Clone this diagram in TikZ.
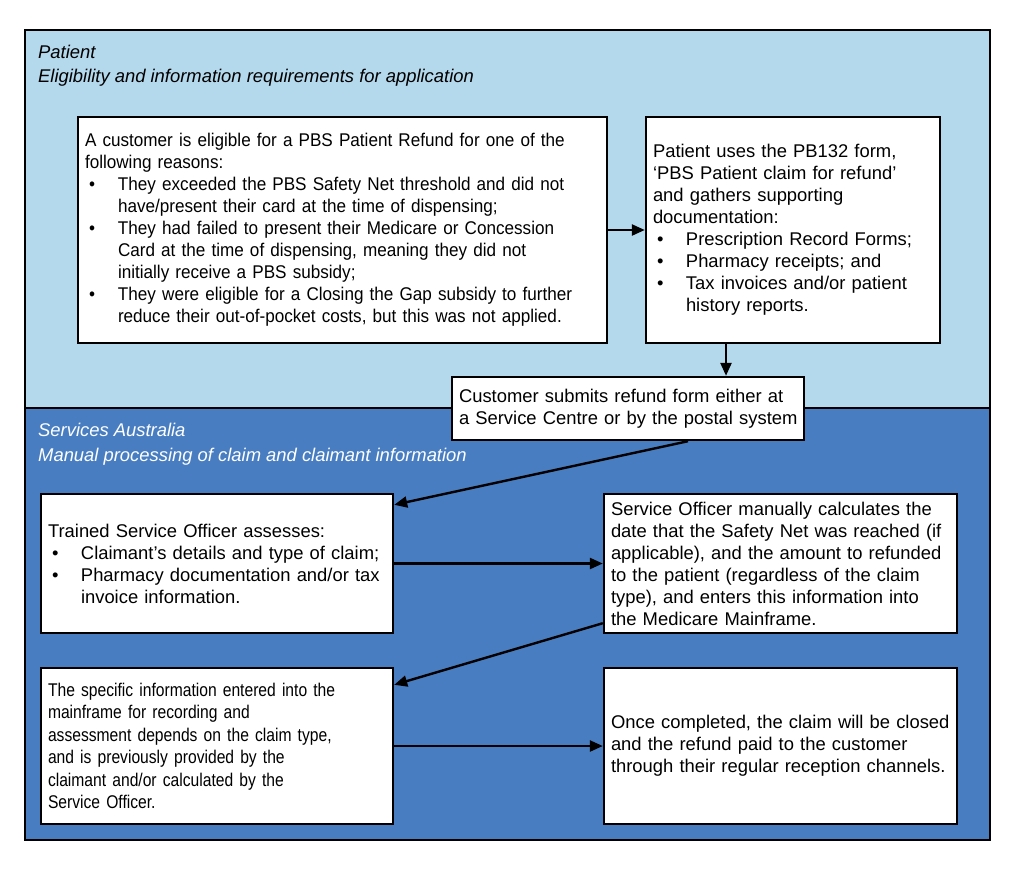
\documentclass[tikz,border=0pt]{standalone}
\usepackage{fontspec}
\setmainfont{Liberation Sans}
\newfontfamily\slimfont{Liberation Sans}[FakeStretch=0.93]
\newfontfamily\narrowfont{Liberation Sans}[FakeStretch=0.85]
\usetikzlibrary{arrows.meta}
\definecolor{patientblue}{RGB}{180,216,236}
\definecolor{servicesblue}{RGB}{72,126,193}
\newcommand{\bitem}{\makebox[33pt][l]{\hspace{4pt}\textbullet}}
\newcommand{\bcont}{\hspace*{33pt}}

\begin{document}
\begin{tikzpicture}[x=1pt,y=-1pt,
    stepbox/.style={draw,line width=2.4pt,fill=white,align=left,inner xsep=7pt,inner ysep=0pt,
        font=\fontsize{18.4}{22}\selectfont},
    flow/.style={line width=2.4pt,-{Triangle[length=13pt,width=11pt]}},
    title/.style={anchor=base west,inner sep=0pt,font=\fontsize{18.4}{22}\selectfont\itshape}]
    \useasboundingbox (0,0) rectangle (1016,871);

    % the two panels
    \fill[patientblue] (25,30) rectangle (990,408);
    \fill[servicesblue] (25,408) rectangle (990,840);
    \draw[line width=2.4pt] (25,408) -- (990,408);
    \draw[line width=2.4pt] (25,30) rectangle (990,840);

    \node[title] (pt) at (38,58) {Patient};
    \node[title] (ptsub) at (38,82) {Eligibility and information requirements for application};
    \node[title,text=white] (sa) at (38,436) {Services Australia};
    \node[title,text=white] (sasub) at (38,461) {Manual processing of claim and claimant information};

    % patient side
    \node[stepbox,text width=515pt,minimum height=226pt,font=\slimfont\fontsize{18.4}{22}\selectfont] (elig) at (342.5,230)
        {\mbox{A customer is eligible for a PBS Patient Refund for one of the}\\
         following reasons:\\
         \bitem\mbox{They exceeded the PBS Safety Net threshold and did not}\\
         \bcont have/present their card at the time of dispensing;\\
         \bitem\mbox{They had failed to present their Medicare or Concession}\\
         \bcont Card at the time of dispensing, meaning they did not\\
         \bcont initially receive a PBS subsidy;\\
         \bitem\mbox{They were eligible for a Closing the Gap subsidy to further}\\
         \bcont\mbox{reduce their out-of-pocket costs, but this was not applied.}};
    \node[stepbox,text width=280pt,minimum height=226pt] (form) at (793,230)
        {Patient uses the PB132 form,\\
         ‘PBS Patient claim for refund’\\
         and gathers supporting\\
         documentation:\\
         \bitem Prescription Record Forms;\\
         \bitem Pharmacy receipts; and\\
         \bitem Tax invoices and/or patient\\
         \bcont history reports.};
    \node[stepbox,text width=338pt,minimum height=63pt] (submit) at (628,408.5)
        {\mbox{Customer submits refund form either at}\\
         \mbox{a Service Centre or by the postal system}};

    % services side
    \node[stepbox,text width=338pt,minimum height=139pt] (assess) at (217,563.5)
        {Trained Service Officer assesses:\\
         \bitem\mbox{Claimant’s details and type of claim;}\\
         \bitem\mbox{Pharmacy documentation and/or tax}\\
         \bcont invoice information.};
    \node[stepbox,text width=339pt,minimum height=139pt] (calc) at (780.5,563.5)
        {\mbox{Service Officer manually calculates the}\\
         \mbox{date that the Safety Net was reached (if}\\
         \mbox{applicable), and the amount to refunded}\\
         \mbox{to the patient (regardless of the claim}\\
         \mbox{type), and enters this information into}\\
         the Medicare Mainframe.};
    \node[stepbox,text width=338pt,minimum height=156pt,font=\narrowfont\fontsize{18.4}{22.4}\selectfont] (record) at (217,746)
        {\mbox{The specific information entered into the}\\
         mainframe for recording and\\
         \mbox{assessment depends on the claim type,}\\
         and is previously provided by the\\
         \mbox{claimant and/or calculated by the}\\
         Service Officer.};
    \node[stepbox,text width=339pt,minimum height=156pt] (close) at (780.5,746)
        {\mbox{Once completed, the claim will be closed}\\
         \mbox{and the refund paid to the customer}\\
         \mbox{through their regular reception channels.}};

    \draw[flow] (elig) -- (form);
    \draw[flow] ([xshift=-67pt]form.south) -- ([xshift=-67pt]form.south |- submit.north);
    \draw[flow] ([xshift=60pt]submit.south) -- ([yshift=-12pt]assess.north east);
    \draw[flow] (assess) -- (calc);
    \draw[flow] ([yshift=11pt]calc.south west) -- ([yshift=-18pt]record.north east);
    \draw[flow] (record) -- (close);
\end{tikzpicture}
\end{document}
